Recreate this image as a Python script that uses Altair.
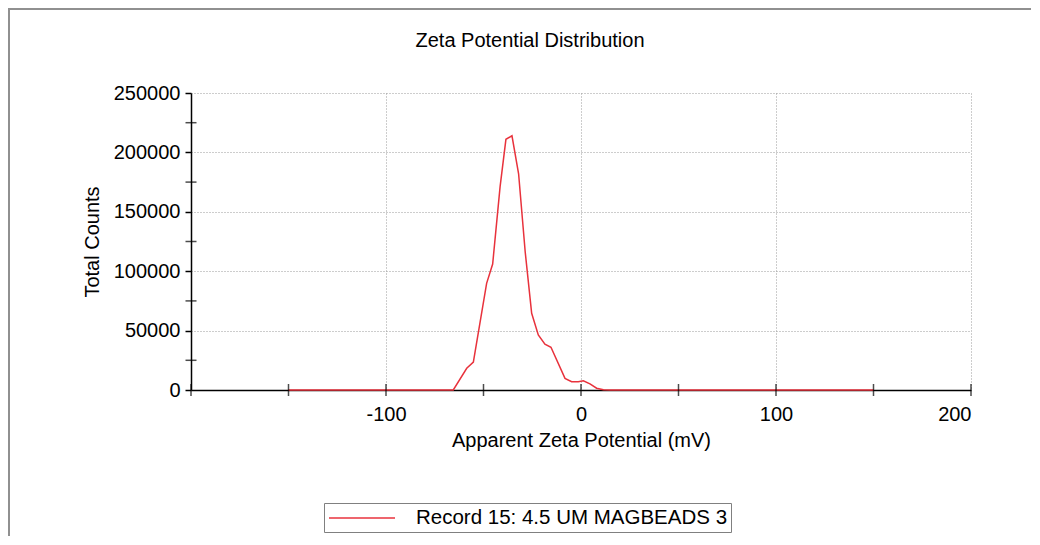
import altair as alt
import pandas as pd

# ---- data ----
zeta_mv = [-150, -65.5, -58.6, -55.2, -48.4, -45.3, -41.5, -38.5, -35.4, -32.0,
           -28.6, -25.3, -21.9, -18.5, -15.4, -8.2, -4.8, -1.4, 1.2, 4.6,
           8.0, 11.5, 14.9, 150]
total_counts = [0, 0, 18300, 23500, 89800, 106000, 171000, 211000, 214000, 182000,
                116000, 64600, 46300, 38600, 36000, 9800, 7000, 7000, 7800, 5200,
                1500, 300, 0, 0]
series_name = "Record 15: 4.5 UM MAGBEADS 3"

x_label_values = [-100, 0, 100, 200]
x_tick_values = [-200, -150, -100, -50, 0, 50, 100, 150, 200]
y_label_values = [0, 50000, 100000, 150000, 200000, 250000]
y_minor_values = [25000, 75000, 125000, 175000, 225000]

FONT = "Liberation Sans"
RED = "#e8323c"

df = pd.DataFrame({"zeta": zeta_mv, "counts": total_counts, "series": series_name})
xt = pd.DataFrame({"v": x_tick_values})
ym = pd.DataFrame({"v": y_minor_values})

xscale = alt.Scale(domain=[-200, 200], nice=False, zero=False)
yscale = alt.Scale(domain=[0, 250000], nice=False)

xaxis = alt.Axis(values=x_label_values, title="Apparent Zeta Potential (mV)",
                 labelExpr="'' + datum.value", ticks=False, labelPadding=14,
                 titleX=390, titleY=50, titleBaseline="middle", titleAlign="center")
yaxis = alt.Axis(values=y_label_values, title="Total Counts", format="d",
                 ticks=True, tickSize=6, tickWidth=1.5, tickColor="black",
                 labelPadding=5, titleX=-99, titleY=148.5, titleAngle=-90,
                 titleBaseline="middle", titleAlign="center")

line = alt.Chart(df).mark_line(strokeWidth=1.5).encode(
    x=alt.X("zeta:Q", scale=xscale, axis=xaxis),
    y=alt.Y("counts:Q", scale=yscale, axis=yaxis),
    color=alt.Color("series:N", scale=alt.Scale(range=[RED]),
                    legend=alt.Legend(title=None, orient="none", legendX=133, legendY=410,
                                      symbolType="M-3,0H3", symbolSize=484,
                                      symbolOffset=23, symbolStrokeWidth=1.5,
                                      labelOffset=42, labelLimit=600, padding=3,
                                      strokeColor="#808080", labelFontSize=20.5,
                                      labelFont=FONT, labelColor="black")),
)

xticks = alt.Chart(xt).mark_tick(orient="vertical", size=12, thickness=1.5, color="black").encode(
    x=alt.X("v:Q", scale=xscale, axis=xaxis),
    y=alt.datum(0, scale=yscale, axis=yaxis),
)

yticks = alt.Chart(ym).mark_tick(orient="horizontal", size=11, thickness=1.5, color="black").encode(
    y=alt.Y("v:Q", scale=yscale, axis=yaxis),
    x=alt.datum(-200, scale=xscale, axis=xaxis),
)

frame = alt.Chart(pd.DataFrame({"a": [0]})).mark_rect(
    filled=False, stroke="#909090", strokeWidth=2
).encode(
    x=alt.value(-182), y=alt.value(-84), x2=alt.value(900), y2=alt.value(500)
)

chart = alt.layer(line, xticks, yticks, frame).properties(
    width=780, height=297,
    background="white",
    title=alt.Title("Zeta Potential Distribution", fontSize=20, fontWeight="normal",
                    font=FONT, color="black", anchor="middle", dx=-51, dy=59, offset=0,
                    baseline="alphabetic"),
    autosize=alt.AutoSizeParams(type="none"),
    padding={"left": 183, "top": 85, "right": 60, "bottom": 146},
).configure_view(strokeWidth=0).configure_axis(
    labelFont=FONT, titleFont=FONT, labelFontSize=20, titleFontSize=20,
    labelColor="black", titleColor="black", titleFontWeight="normal",
    domainColor="black", domainWidth=1.5,
    grid=True, gridColor="#9a9a9a", gridDash=[1, 2], gridWidth=1,
)

chart.save("out.html", embed_options={"renderer": "svg", "actions": False})
